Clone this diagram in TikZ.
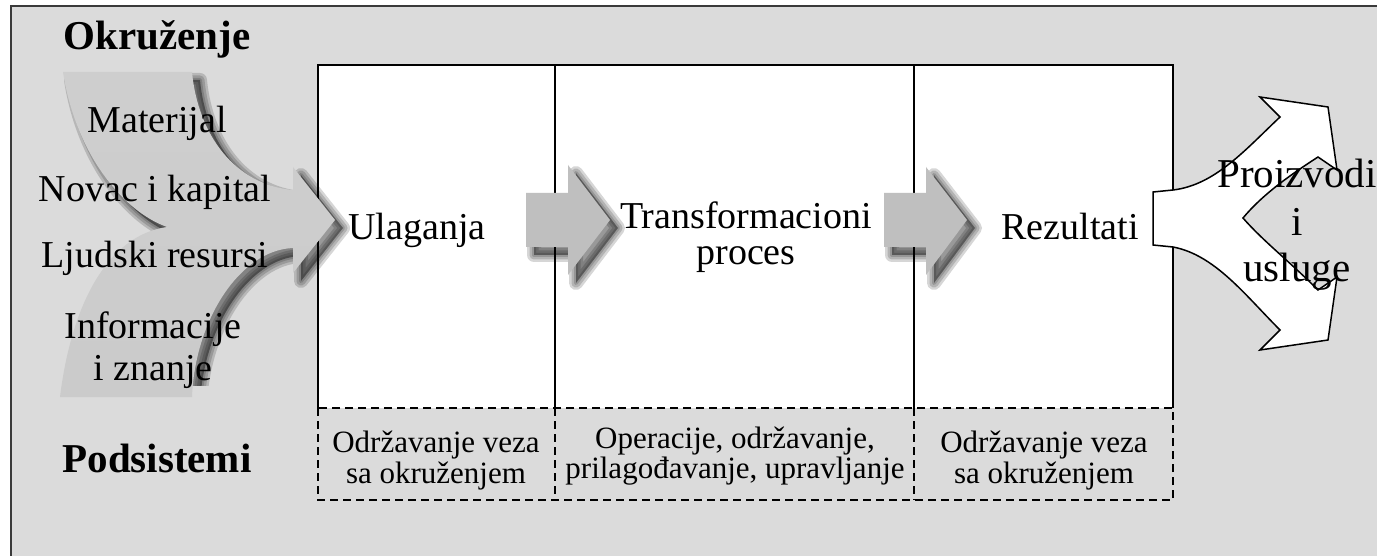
\documentclass[tikz,border=0pt]{standalone}
\usepackage{fontspec}
\setmainfont{Liberation Serif}
\definecolor{bggray}{HTML}{DBDBDB}
\definecolor{arrowgray}{HTML}{BFBFBF}
\definecolor{curvegray}{HTML}{C4C4C4}
\definecolor{framegray}{HTML}{3A3A3A}
\def\inarrowpath{(63,72) -- (192,72)
  .. controls (198,135) and (235,185) .. (293,190)
  -- (293,167) -- (335,220) -- (293,273) -- (293,248)
  .. controls (240,250) and (195,320) .. (192,397)
  -- (60,397)
  .. controls (72,300) and (110,235) .. (167,227)
  .. controls (120,210) and (75,150) .. (63,72) -- cycle}
\def\blockarrowA{(526,193) -- (568,193) -- (568,165) -- (610,220) -- (568,275) -- (568,247) -- (526,247) -- cycle}
\def\blockarrowB{(884,193) -- (926,193) -- (926,167) -- (967,220) -- (926,275) -- (926,247) -- (884,247) -- cycle}
\begin{document}
\begin{tikzpicture}[x=1pt,y=-1pt,
  bigtext/.style={font=\fontsize{38}{42}\selectfont, align=center, inner sep=0pt, anchor=base},
  headtext/.style={font=\fontsize{41}{45}\selectfont\bfseries, inner sep=0pt, anchor=base},
  smalltext/.style={font=\fontsize{31}{31}\selectfont, align=center, inner sep=0pt, anchor=base},
  boxline/.style={line width=1.5pt, draw=black},
  dashline/.style={line width=1.5pt, draw=black, dash pattern=on 8pt off 5pt},
  shadowfill/.style={fill=black, fill opacity=0.4, draw=none},
  shadowedge/.style={draw=black, draw opacity=0.16, line join=round},
  blockarrow/.style={fill=arrowgray, draw=none},
  curvearrow/.style={top color=curvegray!55!bggray, middle color=curvegray, bottom color=curvegray!70!bggray, draw=none},
  outarrow/.style={fill=white, draw=black, line width=1.5pt, line join=miter}
]
\useasboundingbox (0,0) rectangle (1377,556);
\clip (0,0) rectangle (1377,556);
% frame
\path[fill=bggray, draw=framegray, line width=2.5pt] (11,6) rectangle (1400,580);
% main box
\fill[white] (318,65) rectangle (1173,408);
\draw[boxline] (318,408) -- (318,65) -- (1173,65) -- (1173,408);
\draw[boxline] (555,65) -- (555,408);
\draw[boxline] (914,65) -- (914,408);
% dashed subsystem box
\draw[dashline] (318,408) rectangle (1173,500);
\draw[dashline] (555,408) -- (555,500);
\draw[dashline] (914,408) -- (914,500);
% soft shadows of the gray arrows
\begin{scope}
  \clip (0,0) rectangle (1377,385);
  \begin{scope}[shift={(8,8)}]
    \path[shadowfill] \inarrowpath;
    \foreach \w in {14,9,4} {\path[shadowedge, line width=\w pt] \inarrowpath;}
  \end{scope}
\end{scope}
\begin{scope}[shift={(8,8)}]
  \path[shadowfill] \blockarrowA;
  \path[shadowfill] \blockarrowB;
  \foreach \w in {14,9,4} {
    \path[shadowedge, line width=\w pt] \blockarrowA;
    \path[shadowedge, line width=\w pt] \blockarrowB;
  }
\end{scope}
% left curved input arrow
\path[curvearrow] \inarrowpath;
% block arrows
\path[blockarrow] \blockarrowA;
\path[blockarrow] \blockarrowB;
% output arrow
\path[outarrow] (1153,192) -- (1173,190)
  .. controls (1215,185) and (1245,150) .. (1280,117)
  -- (1260,97) -- (1328,107) -- (1337,170) -- (1318,157)
  .. controls (1290,175) and (1262,195) .. (1243,218)
  .. controls (1262,240) and (1290,262) .. (1318,290)
  -- (1337,277) -- (1328,340) -- (1260,350) -- (1280,330)
  .. controls (1245,295) and (1215,255) .. (1173,247)
  -- (1153,245) -- cycle;
% texts
\node[headtext] (okruzenje) at (157,50) {Okruženje};
\node[headtext] (podsistemi) at (157,472) {Podsistemi};
\node[bigtext] (materijal) at (157,133) {Materijal};
\node[bigtext] (novac) at (155,202) {Novac i kapital};
\node[bigtext] (ljudski) at (155,268) {Ljudski resursi};
\node[bigtext] (informacije) at (153,380) {Informacije\\i znanje};
\node[bigtext] (ulaganja) at (417,240) {Ulaganja};
\node[bigtext, font=\fontsize{38}{36}\selectfont] (transf) at (746,265) {Transformacioni\\proces};
\node[bigtext] (rezultati) at (1070,240) {Rezultati};
\node[bigtext, font=\fontsize{41}{47}\selectfont] (proizvodi) at (1297,282) {Proizvodi\\i\\usluge};
\node[smalltext] (sub1) at (436,483) {Održavanje veza\\sa okruženjem};
\node[smalltext, font=\fontsize{31}{30}\selectfont] (sub2) at (735,478) {Operacije, održavanje,\\prilagođavanje, upravljanje};
\node[smalltext] (sub3) at (1044,483) {Održavanje veza\\sa okruženjem};
\end{tikzpicture}
\end{document}
